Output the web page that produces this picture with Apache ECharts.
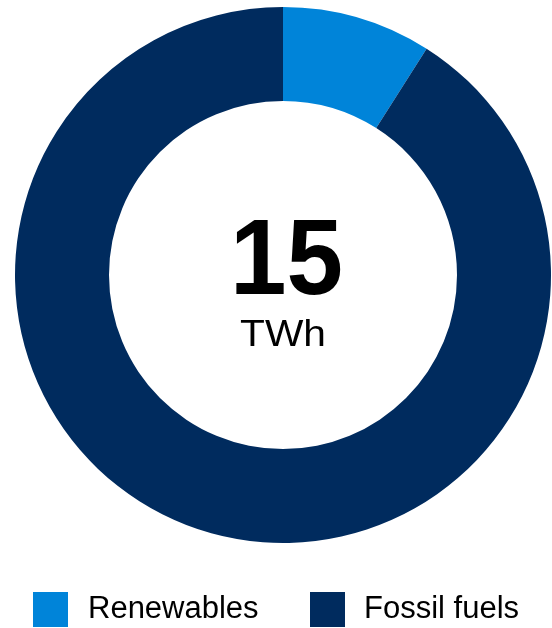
<!DOCTYPE html>
<html>
<head>
<meta charset="utf-8">
<script src="https://cdn.jsdelivr.net/npm/echarts@6/dist/echarts.min.js"></script>
<style>
  html, body { margin: 0; padding: 0; background: #fff; }
  #chart { width: 552px; height: 628px; }
</style>
</head>
<body>
<div id="chart"></div>
<script>
// 数据
var categories = ['Renewables', 'Fossil fuels'];
var shares = [9, 91]; // % of total
var colors = ['#0084D9', '#002B5E'];
var totalLabel = '15';
var unitLabel = 'TWh';

var chart = echarts.init(document.getElementById('chart'));

var pieData = [];
for (var i = 0; i < categories.length; i++) {
  pieData.push({ name: categories[i], value: shares[i], itemStyle: { color: colors[i] } });
}

var font = 'Liberation Sans, Arial, sans-serif';

var option = {
  animation: false,
  // 每个图例单独放置
  legend: [
    {
      data: [categories[0]],
      left: 33, top: 592, padding: 0,
      itemWidth: 35, itemHeight: 35, icon: 'rect',
      textStyle: { fontSize: 31, color: '#000', fontFamily: font, padding: [0, 0, 0, 15] }
    },
    {
      data: [categories[1]],
      left: 310, top: 592, padding: 0,
      itemWidth: 35, itemHeight: 35, icon: 'rect',
      textStyle: { fontSize: 31, color: '#000', fontFamily: font, padding: [0, 0, 0, 14] }
    }
  ],
  // 中间的总量文字
  graphic: [
    {
      type: 'text', x: 286.5, y: 264, scaleX: 0.94,
      style: { text: totalLabel, font: 'bold 108px ' + font, fill: '#000', textAlign: 'center', textVerticalAlign: 'middle' }
    },
    {
      type: 'text', x: 283, y: 336, scaleX: 1.1,
      style: { text: unitLabel, font: '37px ' + font, fill: '#000', textAlign: 'center', textVerticalAlign: 'middle' }
    }
  ],
  series: [{
    type: 'pie',
    center: [283, 275],
    radius: [174, 268],
    startAngle: 90,
    clockwise: true,
    silent: true,
    label: { show: false },
    labelLine: { show: false },
    data: pieData
  }]
};

chart.setOption(option);
</script>
</body>
</html>
